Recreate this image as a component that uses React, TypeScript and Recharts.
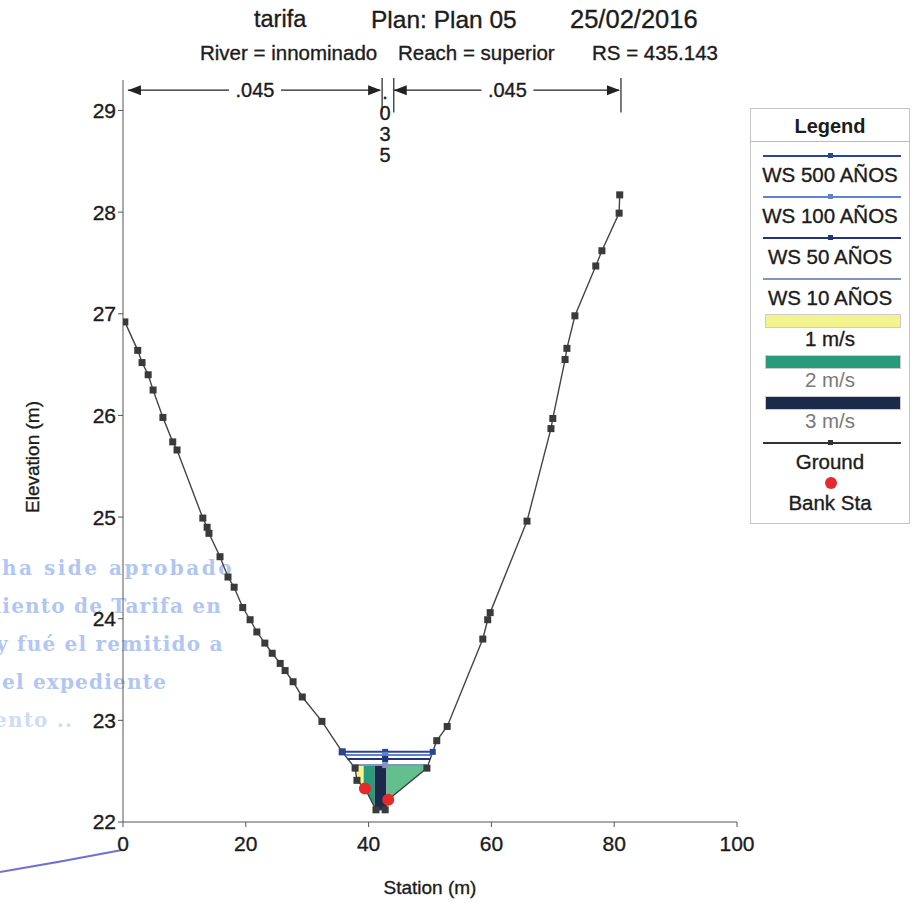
import React from "react"
import {
    ComposedChart,
    Line,
    Area,
    Scatter,
    XAxis,
    YAxis,
    ReferenceLine,
} from "recharts"

// ─── Data ──────────────────────────────────────────────────────────────────────

const GROUND_STA = [
    0.3, 2.4, 3.1, 4.1, 4.9, 6.5, 8.1, 8.8, 13.0, 13.7, 14.0, 15.8, 17.1, 18.1,
    19.5, 20.7, 21.8, 23.1, 24.3, 25.6, 26.4, 27.7, 29.2, 32.4, 35.7, 37.8, 38.1,
    39.4, 41.2, 42.7, 43.2, 49.5, 51.1, 52.8, 58.6, 59.4, 59.8, 65.8, 69.7, 70.0,
    72.0, 72.3, 73.6, 77.0, 78.0, 80.8, 80.9,
]
const GROUND_ELEV = [
    26.92, 26.64, 26.52, 26.4, 26.25, 25.98, 25.74, 25.66, 24.99, 24.9, 24.84,
    24.61, 24.41, 24.31, 24.11, 23.99, 23.87, 23.76, 23.66, 23.56, 23.49, 23.38,
    23.23, 22.99, 22.69, 22.53, 22.41, 22.33, 22.12, 22.12, 22.22, 22.53, 22.8,
    22.94, 23.8, 23.99, 24.06, 24.96, 25.87, 25.97, 26.55, 26.66, 26.98, 27.47,
    27.62, 27.99, 28.17,
]

const BANK_STA = [39.4, 43.2]
const BANK_ELEV = [22.33, 22.22]

const WS_NAMES = ["WS 500 AÑOS", "WS 100 AÑOS", "WS 50 AÑOS", "WS 10 AÑOS"]
const WS_ELEV = [22.69, 22.66, 22.62, 22.56]
const WS_LEFT = [35.7, 36.1, 36.6, 37.4]
const WS_RIGHT = [50.45, 50.27, 50.03, 49.7]
const WS_MID = 42.7
const WS_COLORS = ["#2b4596", "#5f82cf", "#1f347c", "#8195c2"]

const VEL_LABELS = ["1 m/s", "2 m/s", "3 m/s"]
const VEL_COLORS = ["#f3f48e", "#2a9a7c", "#1b2a4a"]

// velocity slices under the water surface (station / bed elevation)
const VEL_TOP = 22.55
const SLICE_STA = [
    [37.8, 38.1, 39.2],
    [39.2, 39.4, 41.0],
    [41.0, 41.2, 42.7, 42.9],
    [42.9, 43.2, 49.5],
]
const SLICE_BED = [
    [22.53, 22.41, 22.35],
    [22.35, 22.33, 22.14],
    [22.14, 22.12, 22.12, 22.16],
    [22.16, 22.22, 22.53],
]
const SLICE_FILL = ["#f3f48e", "#2a9a7c", "#1b2a4a", "#63bf8e"]

// Manning's n regions along the top
const N_BREAKS = [0.8, 42.2, 44.1, 81.1]
const N_VALUES = [".045", ".035", ".045"]
const N_ELEV = 29.2

const X_TICKS = [0, 20, 40, 60, 80, 100]
const Y_TICKS = [22, 23, 24, 25, 26, 27, 28, 29]

const STAMP_LINES = [
    "ha  side aprobado",
    "miento de Tarifa en",
    "y fué el remitido a",
    "el expediente",
    "ento  ..",
]
const STAMP_LEFT = [2, -20, -4, 2, -6]

// ─── Derived series ────────────────────────────────────────────────────────────

const groundData = GROUND_STA.map((x, i) => ({ x, y: GROUND_ELEV[i] }))
const bankData = BANK_STA.map((x, i) => ({ x, y: BANK_ELEV[i] }))
const wsData = WS_ELEV.map((y, i) => [
    { x: WS_LEFT[i], y },
    { x: WS_MID, y },
    { x: WS_RIGHT[i], y },
])
const sliceData = SLICE_STA.map((sta, i) =>
    sta.map((x, j) => ({ x, v: [SLICE_BED[i][j], VEL_TOP] })),
)

// ─── Styles ────────────────────────────────────────────────────────────────────

const FONT = "'Liberation Sans', Arial, sans-serif"
const INK = "#1c1c1c"
const THICK = "0.35px #1c1c1c"

const tickStyle = {
    fill: INK,
    fontSize: 21,
    fontFamily: FONT,
    stroke: INK,
    strokeWidth: 0.35,
}

// ─── Shapes ────────────────────────────────────────────────────────────────────

function GroundDot(props: any) {
    const { cx, cy } = props
    if (cx == null || cy == null) return null
    return <rect x={cx - 3.5} y={cy - 3.5} width={7} height={7} fill="#3a3a3a" />
}

function wsDot(color: string, all: boolean) {
    return (props: any) => {
        const { cx, cy, index } = props
        if (!all && index !== 1) return <g key={index} />
        return (
            <rect
                key={index}
                x={cx - 3}
                y={cy - 3}
                width={6}
                height={6}
                fill={color}
            />
        )
    }
}

function arrowHead(x: number, y: number, dir: number) {
    const l = 13
    return (
        <polygon
            points={`${x},${y} ${x - dir * l},${y - 5} ${x - dir * l},${y + 5}`}
            fill="#222"
        />
    )
}

function nShape(label: string, narrow: boolean) {
    return (p: any) => {
        const { x1, y1, x2 } = p
        if (narrow) {
            const cx = (x1 + x2) / 2 - 3
            return (
                <g
                    fontFamily={FONT}
                    fontSize={20}
                    fill={INK}
                    stroke={INK}
                    strokeWidth={0.35}
                    textAnchor="middle"
                >
                    {label.split("").map((c, i) => (
                        <text key={i} x={cx} y={y1 + 9 + i * 21}>
                            {c}
                        </text>
                    ))}
                </g>
            )
        }
        const mid = (x1 + x2) / 2
        return (
            <g>
                <line x1={x1} y1={y1} x2={x2 - 2} y2={y1} stroke="#222" strokeWidth={1.2} />
                {arrowHead(x1, y1, -1)}
                {arrowHead(x2 - 1, y1, 1)}
                <rect x={mid - 26} y={y1 - 12} width={52} height={24} fill="#fff" />
                <text
                    x={mid}
                    y={y1 + 7}
                    textAnchor="middle"
                    fontFamily={FONT}
                    fontSize={20}
                    fill={INK}
                    stroke={INK}
                    strokeWidth={0.35}
                >
                    {label}
                </text>
            </g>
        )
    }
}

function YTitle(props: any) {
    const vb = props.viewBox
    const x = vb.x + 32
    const y = vb.y + vb.height / 2 + 6
    return (
        <text
            x={x}
            y={y}
            transform={`rotate(-90 ${x} ${y})`}
            textAnchor="middle"
            dominantBaseline="central"
            fontFamily={FONT}
            fontSize={19}
            fill={INK}
            stroke={INK}
            strokeWidth={0.35}
        >
            Elevation (m)
        </text>
    )
}

// ─── Legend ────────────────────────────────────────────────────────────────────

type LegendItem = { label: string; kind: "line" | "bar" | "dot"; color: string; marker?: boolean; muted?: boolean }

const LEGEND: LegendItem[] = [
    ...WS_NAMES.map((n, i) => ({
        label: n,
        kind: "line" as const,
        color: WS_COLORS[i],
        marker: i < 3,
    })),
    ...VEL_LABELS.map((n, i) => ({
        label: n,
        kind: "bar" as const,
        color: VEL_COLORS[i],
        muted: i > 0,
    })),
    { label: "Ground", kind: "line", color: "#333", marker: true },
    { label: "Bank Sta", kind: "dot", color: "#e42a2a" },
]

function ChartLegend() {
    return (
        <div
            style={{
                position: "absolute",
                left: 750,
                top: 108,
                width: 158,
                height: 414,
                border: "1px solid #c4c4c4",
                background: "#fff",
                fontFamily: FONT,
                color: INK,
            }}
        >
            <div
                style={{
                    height: 32,
                    lineHeight: "34px",
                    textAlign: "center",
                    fontWeight: "bold",
                    fontSize: 20,
                    borderBottom: "1px solid #bbb",
                }}
            >
                Legend
            </div>
            {LEGEND.map((it, i) => (
                <div
                    key={it.label}
                    style={{
                        position: "absolute",
                        left: 0,
                        top: 36 + i * 41,
                        width: "100%",
                        height: 41,
                    }}
                >
                    <div style={{ position: "relative", height: 22 }}>
                        {it.kind === "line" && (
                            <>
                                <div
                                    style={{
                                        position: "absolute",
                                        left: 12,
                                        right: 8,
                                        top: 10,
                                        height: 1.5,
                                        background: it.color,
                                    }}
                                />
                                {it.marker && (
                                    <div
                                        style={{
                                            position: "absolute",
                                            left: 77,
                                            top: 8,
                                            width: 5,
                                            height: 5,
                                            background: it.color,
                                        }}
                                    />
                                )}
                            </>
                        )}
                        {it.kind === "bar" && (
                            <div
                                style={{
                                    position: "absolute",
                                    left: 14,
                                    right: 8,
                                    top: 5,
                                    height: 12,
                                    background: it.color,
                                    border: "1px solid #ccc",
                                }}
                            />
                        )}
                        {it.kind === "dot" && (
                            <div
                                style={{
                                    position: "absolute",
                                    left: 74,
                                    top: 4,
                                    width: 12,
                                    height: 12,
                                    borderRadius: 6,
                                    background: it.color,
                                }}
                            />
                        )}
                    </div>
                    <div
                        style={{
                            textAlign: "center",
                            fontSize: 20.5,
                            lineHeight: "16px",
                            color: it.muted ? "#7a7a7a" : INK,
                            WebkitTextStroke: it.muted ? "0" : THICK,
                            whiteSpace: "nowrap",
                        }}
                    >
                        {it.label}
                    </div>
                </div>
            ))}
        </div>
    )
}

// ─── Component ─────────────────────────────────────────────────────────────────

const titleText = (top: number, left: number, size: number) => ({
    position: "absolute" as const,
    top,
    left,
    fontSize: size,
    whiteSpace: "nowrap" as const,
    WebkitTextStroke: THICK,
})

export default function App() {
    return (
        <div
            style={{
                position: "absolute",
                left: 0,
                top: 0,
                width: 922,
                height: 903,
                background: "#fff",
                overflow: "hidden",
                fontFamily: FONT,
                color: INK,
            }}
        >
            {/* stamp bleeding through the scan */}
            {STAMP_LINES.map((t, i) => (
                <div
                    key={i}
                    style={{
                        position: "absolute",
                        left: STAMP_LEFT[i],
                        top: 556 + i * 38,
                        fontFamily: "'DejaVu Serif', serif",
                        fontWeight: "bold",
                        fontSize: 20,
                        letterSpacing: i === 0 ? 2.5 : 1.2,
                        color: "#a9c0f2",
                        whiteSpace: "nowrap",
                        opacity: i === 4 ? 0.55 : 0.9,
                    }}
                >
                    {t}
                </div>
            ))}
            <svg
                width={922}
                height={903}
                style={{ position: "absolute", left: 0, top: 0 }}
            >
                <path d="M0 872 Q60 862 122 850" stroke="#6f6fd8" strokeWidth={2} fill="none" />
            </svg>

            <div style={{ position: "absolute", top: 0, left: 0, width: 922, height: 903 }}>
                <ComposedChart
                    width={922}
                    height={903}
                    margin={{ top: 80, right: 185, bottom: 21, left: 0 }}
                >
                    <XAxis
                        type="number"
                        dataKey="x"
                        domain={[0, 100]}
                        ticks={X_TICKS}
                        allowDataOverflow
                        height={60}
                        tick={tickStyle}
                        tickSize={5}
                        tickMargin={9}
                        axisLine={{ stroke: "#555" }}
                        tickLine={{ stroke: "#555" }}
                        label={{
                            value: "Station (m)",
                            position: "insideBottom",
                            offset: -12,
                            fill: INK,
                            stroke: INK,
                            strokeWidth: 0.35,
                            fontSize: 19,
                            fontFamily: FONT,
                        }}
                    />
                    <YAxis
                        type="number"
                        dataKey="y"
                        domain={[22, 29.3]}
                        ticks={Y_TICKS}
                        allowDataOverflow
                        width={123}
                        tick={tickStyle}
                        tickSize={5}
                        tickMargin={2}
                        axisLine={{ stroke: "#555" }}
                        tickLine={{ stroke: "#555" }}
                        label={{ content: YTitle }}
                    />

                    {/* Manning's n */}
                    {N_VALUES.map((n, i) => (
                        <ReferenceLine
                            key={`n${i}`}
                            segment={[
                                { x: N_BREAKS[i], y: N_ELEV },
                                { x: N_BREAKS[i + 1], y: N_ELEV },
                            ]}
                            ifOverflow="visible"
                            shape={nShape(n, N_BREAKS[i + 1] - N_BREAKS[i] < 5)}
                        />
                    ))}
                    {N_BREAKS.slice(1).map((b) => (
                        <ReferenceLine
                            key={`b${b}`}
                            segment={[
                                { x: b, y: 28.98 },
                                { x: b, y: 29.32 },
                            ]}
                            ifOverflow="visible"
                            stroke="#222"
                            strokeWidth={1.2}
                        />
                    ))}

                    <Line
                        data={groundData}
                        dataKey="y"
                        name="Ground"
                        type="linear"
                        stroke="#444"
                        strokeWidth={1.4}
                        dot={<GroundDot />}
                        activeDot={false}
                        isAnimationActive={false}
                    />

                    {sliceData.map((d, i) => (
                        <Area
                            key={`v${i}`}
                            data={d}
                            dataKey="v"
                            type="linear"
                            stroke="none"
                            fill={SLICE_FILL[i]}
                            fillOpacity={1}
                            dot={false}
                            activeDot={false}
                            isAnimationActive={false}
                        />
                    ))}

                    {wsData.map((d, i) => (
                        <Line
                            key={`ws${i}`}
                            data={d}
                            dataKey="y"
                            name={WS_NAMES[i]}
                            type="linear"
                            stroke={WS_COLORS[i]}
                            strokeWidth={2}
                            dot={wsDot(WS_COLORS[i], i === 0)}
                            activeDot={false}
                            isAnimationActive={false}
                        />
                    ))}

                    <Scatter
                        data={bankData}
                        dataKey="y"
                        name="Bank Sta"
                        fill="#e42a2a"
                        shape={(p: any) => <circle cx={p.cx} cy={p.cy} r={6} fill="#e42a2a" />}
                        isAnimationActive={false}
                    />
                </ComposedChart>
            </div>

            {/* title block */}
            <div style={titleText(6, 254, 23.5)}>tarifa</div>
            <div style={titleText(6, 371, 24.5)}>Plan: Plan 05</div>
            <div style={titleText(5, 570, 25.5)}>25/02/2016</div>
            <div style={titleText(41, 200, 20.5)}>River = innominado</div>
            <div style={titleText(41, 398, 20.5)}>Reach = superior</div>
            <div style={titleText(41, 592, 20.5)}>RS = 435.143</div>

            <ChartLegend />
        </div>
    )
}
